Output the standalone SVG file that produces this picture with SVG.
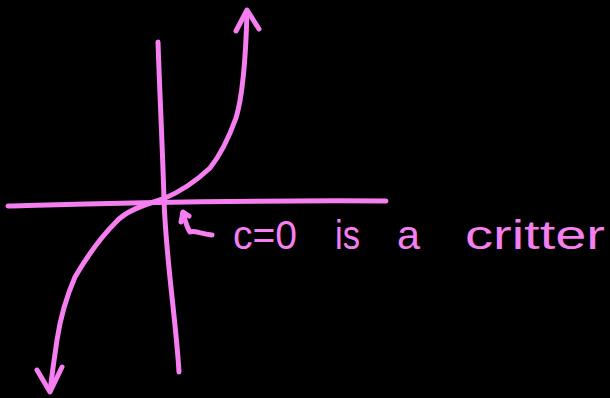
<svg xmlns="http://www.w3.org/2000/svg" width="610" height="398" viewBox="0 0 610 398">
<style>
.ink{fill:none;stroke:#f57ef0;stroke-width:5;stroke-linecap:round;stroke-linejoin:round}
.lbl{fill:#f57ef0;font-family:"Liberation Sans",Arial,sans-serif;font-size:40px}
</style>
<rect width="610" height="398" fill="#000"/>
<g id="axes">
<path class="ink" d="M158,42 C160,100 163,160 164,200 C166,260 176,320 179,372"/>
<path class="ink" d="M8,206 C80,204 200,200 386,201"/>
</g>
<g id="curve">
<path class="ink" d="M247,12 C246,50 243,95 236,118 C228,140 218,158 210,168 C195,182 180,192 163,199 C140,206 125,212 116,222 C100,238 85,260 75,277 C65,300 60,320 57,340 C54,360 52,375 50,391"/>
<path class="ink" d="M236,31 L247,10 L259,29"/>
<path class="ink" d="M37,370 L50,392 L62,367"/>
</g>
<g id="annotation">
<path class="ink" d="M183,213 C185,220 187,228 190,232 C195,230 200,234 212,235"/>
<path class="ink" d="M181,222 L183,212 L189,216"/>
<text class="lbl" x="233" y="249" textLength="64" lengthAdjust="spacingAndGlyphs">c=0</text>
<text class="lbl" x="335" y="249" textLength="25" lengthAdjust="spacingAndGlyphs">is</text>
<text class="lbl" x="397" y="249" textLength="23" lengthAdjust="spacingAndGlyphs">a</text>
<text class="lbl" x="465" y="249" textLength="140" lengthAdjust="spacingAndGlyphs">critter</text>
</g>
</svg>
